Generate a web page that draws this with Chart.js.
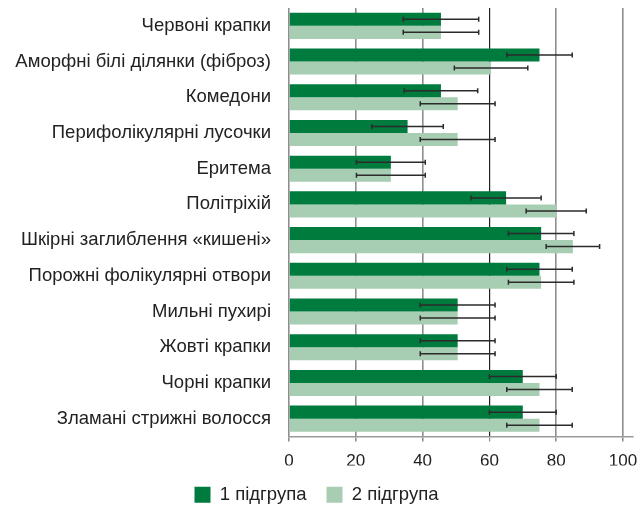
<!DOCTYPE html>
<html>
<head>
<meta charset="utf-8">
<script src="https://cdn.jsdelivr.net/npm/chart.js@4"></script>
<style>
  body { margin: 0; background: #fff; }
  #wrap { width: 642px; height: 508px; }
</style>
</head>
<body>
<div id="wrap"><canvas id="chart" width="642" height="508"></canvas></div>
<script>
const categories = [
  "Червоні крапки",
  "Аморфні білі ділянки (фіброз)",
  "Комедони",
  "Перифолікулярні лусочки",
  "Еритема",
  "Політріхій",
  "Шкірні заглиблення «кишені»",
  "Порожні фолікулярні отвори",
  "Мильні пухирі",
  "Жовті крапки",
  "Чорні крапки",
  "Зламані стрижні волосся",
];
const group1 = [45.5, 75, 45.5, 35.5, 30.5, 65, 75.5, 75, 50.5, 50.5, 70, 70];
const group1Err = [11.3, 9.8, 11, 10.7, 10.3, 10.5, 9.8, 9.8, 11.2, 11.2, 10, 10];
const group2 = [45.5, 60.5, 50.5, 50.5, 30.5, 80, 85, 75.5, 50.5, 50.5, 75, 75];
const group2Err = [11.3, 11, 11.2, 11.2, 10.3, 9, 8, 9.8, 11.2, 11.2, 9.8, 9.8];
const xTicks = [0, 20, 40, 60, 80, 100];

const FONT = "'Liberation Sans', Arial, Helvetica, sans-serif";

// draws error whiskers through the x scale
const errorBars = {
  id: "errorBars",
  afterDatasetsDraw(chart) {
    const ctx = chart.ctx;
    const x = chart.scales.x;
    chart.data.datasets.forEach((ds, i) => {
      const meta = chart.getDatasetMeta(i);
      meta.data.forEach((bar, j) => {
        const v = ds.data[j];
        const e = ds.errors[j];
        const x0 = x.getPixelForValue(v - e);
        const x1 = x.getPixelForValue(v + e);
        const y = bar.y;
        ctx.save();
        ctx.strokeStyle = "#2b2b2b";
        ctx.lineWidth = 1.5;
        ctx.beginPath();
        ctx.moveTo(x0, y);
        ctx.lineTo(x1, y);
        ctx.moveTo(x0, y - 2.5);
        ctx.lineTo(x0, y + 2.5);
        ctx.moveTo(x1, y - 2.5);
        ctx.lineTo(x1, y + 2.5);
        ctx.stroke();
        ctx.restore();
      });
    });
  },
};

new Chart(document.getElementById("chart"), {
  type: "bar",
  data: {
    labels: categories,
    datasets: [
      {
        label: "1 підгрупа",
        data: group1,
        errors: group1Err,
        backgroundColor: "#007b3e",
      },
      {
        label: "2 підгрупа",
        data: group2,
        errors: group2Err,
        backgroundColor: "#a7cdb3",
      },
    ],
  },
  options: {
    indexAxis: "y",
    responsive: false,
    animation: false,
    categoryPercentage: 0.73,
    barPercentage: 1,
    layout: { padding: { top: 8, right: 9, left: 0, bottom: -6 } },
    plugins: {
      tooltip: { enabled: false },
      legend: {
        position: "bottom",
        labels: {
          boxWidth: 16,
          boxHeight: 16,
          padding: 20,
          color: "#222",
          font: { family: FONT, size: 18.5 },
        },
      },
    },
    scales: {
      x: {
        min: 0,
        max: 103,
        afterBuildTicks: (scale) => {
          scale.ticks = xTicks.map((v) => ({ value: v }));
        },
        afterFit: (scale) => {
          scale.height = 29;
          scale.paddingLeft = 0;
          scale.paddingRight = 0;
        },
        grid: {
          color: (c) => (c.tick && c.tick.value === 60 ? "#222" : "#8e8e8e"),
          lineWidth: (c) => (c.tick && c.tick.value === 60 ? 1.2 : 1.6),
          drawTicks: true,
          tickLength: 5,
          tickColor: "#8e8e8e",
        },
        border: { color: "#9a9a9a", width: 1.6 },
        ticks: {
          color: "#222",
          padding: 10,
          font: { family: FONT, size: 17 },
        },
      },
      y: {
        afterFit: (scale) => {
          scale.width = 289;
          scale.paddingTop = 0;
          scale.paddingBottom = 0;
        },
        grid: { display: false },
        border: { display: false },
        ticks: {
          color: "#222",
          padding: 10,
          font: { family: FONT, size: 18.5 },
        },
      },
    },
  },
  plugins: [errorBars],
});
</script>
</body>
</html>
